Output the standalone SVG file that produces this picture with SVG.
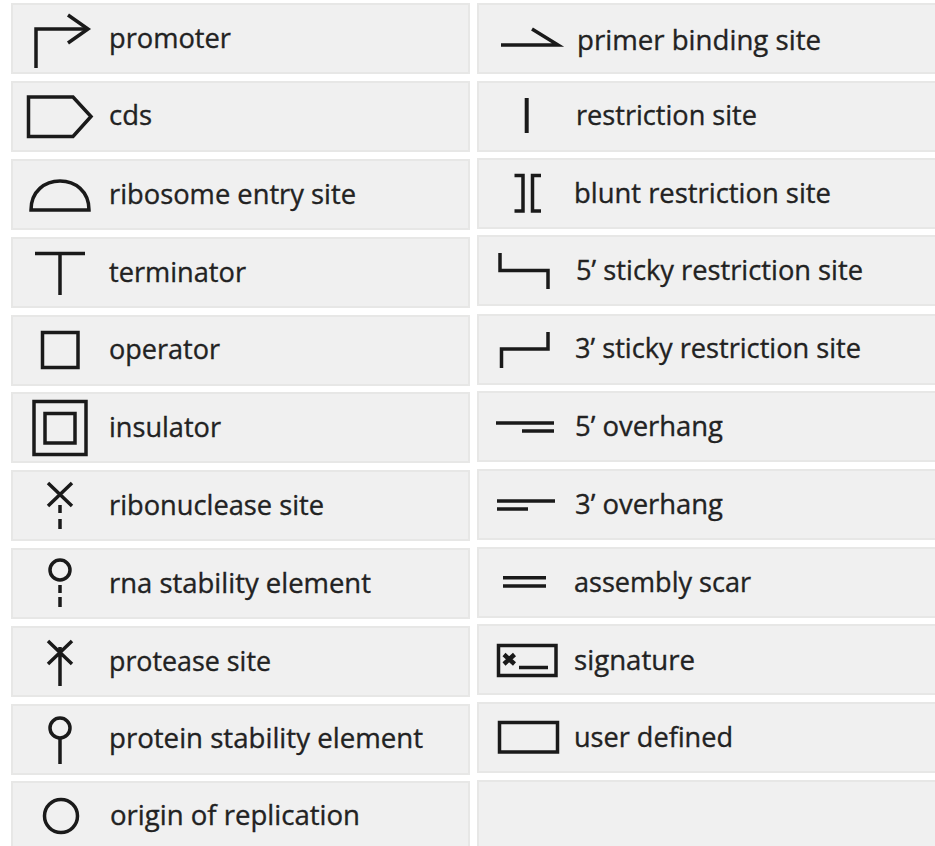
<svg xmlns="http://www.w3.org/2000/svg" width="935" height="846" viewBox="0 0 935 846">
<style>
.p{fill:#f0f0f0;stroke:#e7e7e6;stroke-width:2}
.s{fill:none;stroke:#1a1a1a;stroke-width:3.5}
.b{fill:none;stroke:#1a1a1a;stroke-width:4}
.x{fill:none;stroke:#1a1a1a;stroke-width:4.5}
.t{font-family:"Open Sans","Noto Sans",sans-serif;font-size:28px;fill:#222;stroke:#222;stroke-width:.35}
</style>
<rect width="935" height="846" fill="#fff"/>
<g id="promoter"><rect class="p" x="12" y="4" width="457" height="69"/><path class="s" d="M36 68V29H88"/><path class="s" d="M68 15L88 29L68 43"/><text class="t" x="109" y="48" textLength="122" lengthAdjust="spacingAndGlyphs">promoter</text></g>
<g id="cds"><rect class="p" x="12" y="82" width="457" height="69"/><path class="s" d="M28.500 97H73L91 116.500L73 136.500H28.500Z"/><text class="t" x="109" y="125" textLength="43" lengthAdjust="spacingAndGlyphs">cds</text></g>
<g id="ribosome-entry-site"><rect class="p" x="12" y="160" width="457" height="69"/><path class="s" d="M31 210C31 191 45 181 60 181C75 181 89 191 89 210Z"/><text class="t" x="109" y="204" textLength="247" lengthAdjust="spacingAndGlyphs">ribosome entry site</text></g>
<g id="terminator"><rect class="p" x="12" y="238" width="457" height="69"/><path class="s" d="M35 253.500H85M60 253.500V295"/><text class="t" x="109" y="282" textLength="137" lengthAdjust="spacingAndGlyphs">terminator</text></g>
<g id="operator"><rect class="p" x="12" y="316" width="457" height="69"/><rect class="s" x="42.500" y="332.500" width="35.500" height="35"/><text class="t" x="109" y="359" textLength="111" lengthAdjust="spacingAndGlyphs">operator</text></g>
<g id="insulator"><rect class="p" x="12" y="393" width="457" height="69"/><rect class="s" x="34" y="401.500" width="52" height="53"/><rect class="s" x="45" y="413.500" width="30" height="29.500"/><text class="t" x="109" y="437" textLength="112" lengthAdjust="spacingAndGlyphs">insulator</text></g>
<g id="ribonuclease-site"><rect class="p" x="12" y="471" width="457" height="69"/><path class="s" d="M48 483L72 506M72 483L48 506M60 505V513M60 519V529"/><text class="t" x="109" y="515" textLength="215" lengthAdjust="spacingAndGlyphs">ribonuclease site</text></g>
<g id="rna-stability-element"><rect class="p" x="12" y="549" width="457" height="69"/><circle class="s" cx="60" cy="570" r="10"/><path class="s" d="M60 585V593M60 597V607"/><text class="t" x="109" y="593" textLength="262" lengthAdjust="spacingAndGlyphs">rna stability element</text></g>
<g id="protease-site"><rect class="p" x="12" y="627" width="457" height="69"/><path class="s" d="M48 641L72 664M72 641L48 664M60 647V686"/><text class="t" x="109" y="671" textLength="162" lengthAdjust="spacingAndGlyphs">protease site</text></g>
<g id="protein-stability-element"><rect class="p" x="12" y="705" width="457" height="69"/><circle class="s" cx="60" cy="728" r="10"/><path class="s" d="M60 738V764"/><text class="t" x="109" y="748" textLength="314" lengthAdjust="spacingAndGlyphs">protein stability element</text></g>
<g id="origin-of-replication"><rect class="p" x="12" y="782" width="457" height="70"/><circle class="s" cx="61" cy="816" r="16.500"/><text class="t" x="110" y="825" textLength="250" lengthAdjust="spacingAndGlyphs">origin of replication</text></g>
<g id="primer-binding-site"><rect class="p" x="478" y="4" width="458" height="69"/><path class="s" d="M501 45H558L532 29"/><text class="t" x="577" y="50" textLength="244" lengthAdjust="spacingAndGlyphs">primer binding site</text></g>
<g id="restriction-site"><rect class="p" x="478" y="82" width="458" height="69"/><path class="b" d="M526.700 98V133"/><text class="t" x="576" y="125" textLength="181" lengthAdjust="spacingAndGlyphs">restriction site</text></g>
<g id="blunt-restriction-site"><rect class="p" x="478" y="159" width="458" height="69"/><path class="s" d="M514.500 175.500H523V211H514.500M541 175.500H532.500V211H541"/><text class="t" x="574" y="203" textLength="257" lengthAdjust="spacingAndGlyphs">blunt restriction site</text></g>
<g id="sticky-5-restriction-site"><rect class="p" x="478" y="236" width="458" height="69"/><path class="s" d="M500 253V270.500H548V289"/><text class="t" x="576" y="280" textLength="287" lengthAdjust="spacingAndGlyphs">5’ sticky restriction site</text></g>
<g id="sticky-3-restriction-site"><rect class="p" x="478" y="315" width="458" height="69"/><path class="s" d="M548 332V349H501.500V368"/><text class="t" x="575" y="358" textLength="286" lengthAdjust="spacingAndGlyphs">3’ sticky restriction site</text></g>
<g id="overhang-5"><rect class="p" x="478" y="392" width="458" height="69"/><path class="s" d="M496 423H554M522 431H554"/><text class="t" x="575" y="436" textLength="148" lengthAdjust="spacingAndGlyphs">5’ overhang</text></g>
<g id="overhang-3"><rect class="p" x="478" y="470" width="458" height="69"/><path class="s" d="M497 501H555M497 509H528"/><text class="t" x="575" y="514" textLength="148" lengthAdjust="spacingAndGlyphs">3’ overhang</text></g>
<g id="assembly-scar"><rect class="p" x="478" y="548" width="458" height="69"/><path class="s" d="M503 577.700H546M503 586H546"/><text class="t" x="574" y="592" textLength="177" lengthAdjust="spacingAndGlyphs">assembly scar</text></g>
<g id="signature"><rect class="p" x="478" y="625" width="458" height="69"/><rect class="s" x="498.500" y="645.500" width="57.500" height="30"/><path class="x" d="M504 654.500L514.500 664M514.500 654.500L504 664"/><path class="s" d="M519 667.500H548"/><text class="t" x="574" y="670" textLength="121" lengthAdjust="spacingAndGlyphs">signature</text></g>
<g id="user-defined"><rect class="p" x="478" y="703" width="458" height="69"/><rect class="s" x="499.500" y="722.500" width="58" height="29.500"/><text class="t" x="574" y="747" textLength="159" lengthAdjust="spacingAndGlyphs">user defined</text></g>
<g id="empty-cell"><rect class="p" x="478" y="781" width="458" height="70"/></g>
</svg>
